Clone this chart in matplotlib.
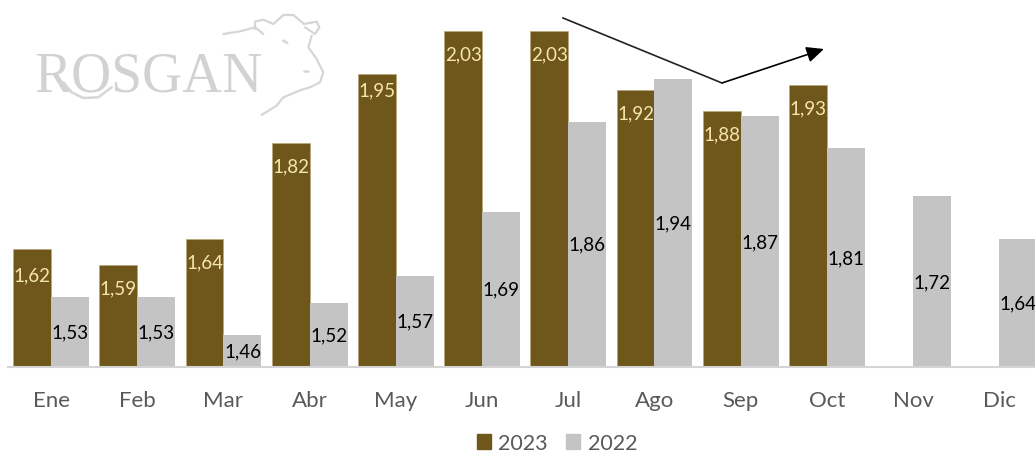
import matplotlib
matplotlib.use("Agg")
import matplotlib.pyplot as plt
from matplotlib.lines import Line2D
from matplotlib.patches import Patch

plt.rcParams['font.family'] = ['Lato', 'DejaVu Sans']

months = ['Ene', 'Feb', 'Mar', 'Abr', 'May', 'Jun', 'Jul', 'Ago', 'Sep', 'Oct', 'Nov', 'Dic']
v2023 = [1.62, 1.59, 1.64, 1.82, 1.95, 2.03, 2.03, 1.92, 1.88, 1.93]
v2022 = [1.53, 1.53, 1.46, 1.52, 1.57, 1.69, 1.86, 1.94, 1.87, 1.81, 1.72, 1.64]

BROWN = '#6f571b'
GRAY = '#c4c4c4'
GOLD = '#f5e6ae'
TXT = '#595959'
W, H = 1035, 452
BASE = 1.40
PXU = 532
AX_B = 367.5

fig = plt.figure(figsize=(W / 100, H / 100), dpi=100)
ax = fig.add_axes([8 / W, (H - AX_B) / H, (W - 8) / W, AX_B / H])
ax.set_xlim(-0.5, 11.415)
ax.set_ylim(BASE, BASE + AX_B / PXU)
bw = 0.44
nudge = {0: -2.0, 4: 5.0}
for i, v in enumerate(v2023):
    ax.bar(i - bw / 2, v - BASE, bw, bottom=BASE, color=BROWN, edgecolor='#b9a877', linewidth=0.5, zorder=2)
    ax.annotate(f'{v:.2f}'.replace('.', ','), (i - bw / 2, v), xytext=(0, -16.5 + nudge.get(i, 0)),
                textcoords='offset points', ha='center', va='center', color=GOLD, fontsize=13.5, zorder=3)
for i, v in enumerate(v2022):
    ax.bar(i + bw / 2, v - BASE, bw, bottom=BASE, color=GRAY, edgecolor='none', zorder=2)
    ax.text(i + bw / 2, (v + BASE) / 2, f'{v:.2f}'.replace('.', ','), ha='center', va='center',
            color='black', fontsize=13.5, zorder=3, clip_on=False)

for s in ['top', 'left', 'right']:
    ax.spines[s].set_visible(False)
ax.spines['bottom'].set_color('#d4d4d4')
ax.spines['bottom'].set_linewidth(1.5)
ax.set_yticks([])
ax.set_xticks(range(12))
ax.set_xticklabels(months, fontsize=16, color=TXT)
ax.tick_params(axis='x', length=0, pad=17)

fig.legend(handles=[Patch(color=BROWN, label='2023'), Patch(color=GRAY, label='2022')],
           loc='center', bbox_to_anchor=(557 / W, (H - 444) / H), ncol=2, frameon=False,
           fontsize=15.5, labelcolor=TXT, handlelength=0.65, handleheight=0.65,
           handletextpad=0.35, columnspacing=0.85, borderpad=0)


def px(x, y):
    return x / W, (H - y) / H


def zoomline(pts, lw=1.6, color='#d6d6d6'):
    xs, ys = zip(*[px(x / 3, y / 3) for x, y in pts])
    fig.add_artist(Line2D(xs, ys, color=color, lw=lw, zorder=5, solid_capstyle='round'))


# Trend arrow
x0, y0 = px(563, 19)
x1, y1 = px(722, 84)
fig.add_artist(Line2D([x0, x1], [y0, y1], color='#222222', lw=1.2, zorder=6))
ax.annotate('', xy=px(824, 50), xytext=(x1, y1), xycoords='figure fraction', textcoords='figure fraction',
            arrowprops=dict(arrowstyle='-|>,head_length=1.05,head_width=0.48', color='black', lw=1.2,
                            shrinkA=0, shrinkB=0), zorder=6)

# Logo
fig.text(*px(149, 91), 'ROSGAN', family='Liberation Serif', fontsize=40, color='#d2d2d2', ha='center', va='baseline', zorder=4)
zoomline([(190, 250), (215, 280), (250, 297), (295, 295), (335, 265)], lw=1.8)
zoomline([(670, 105), (720, 97), (765, 85), (790, 105)])
zoomline([(765, 90), (765, 68), (790, 62), (820, 75), (850, 48), (880, 48), (912, 75)])
zoomline([(912, 75), (950, 68), (958, 85), (945, 105), (915, 85)])
zoomline([(935, 110), (925, 145), (950, 180), (970, 220), (960, 250), (930, 265), (905, 272),
          (850, 295), (830, 320), (785, 348)])
zoomline([(850, 125), (862, 132)], lw=1.8)
zoomline([(913, 217), (923, 217)], lw=1.8)

fig.savefig('out.png', dpi=100)
